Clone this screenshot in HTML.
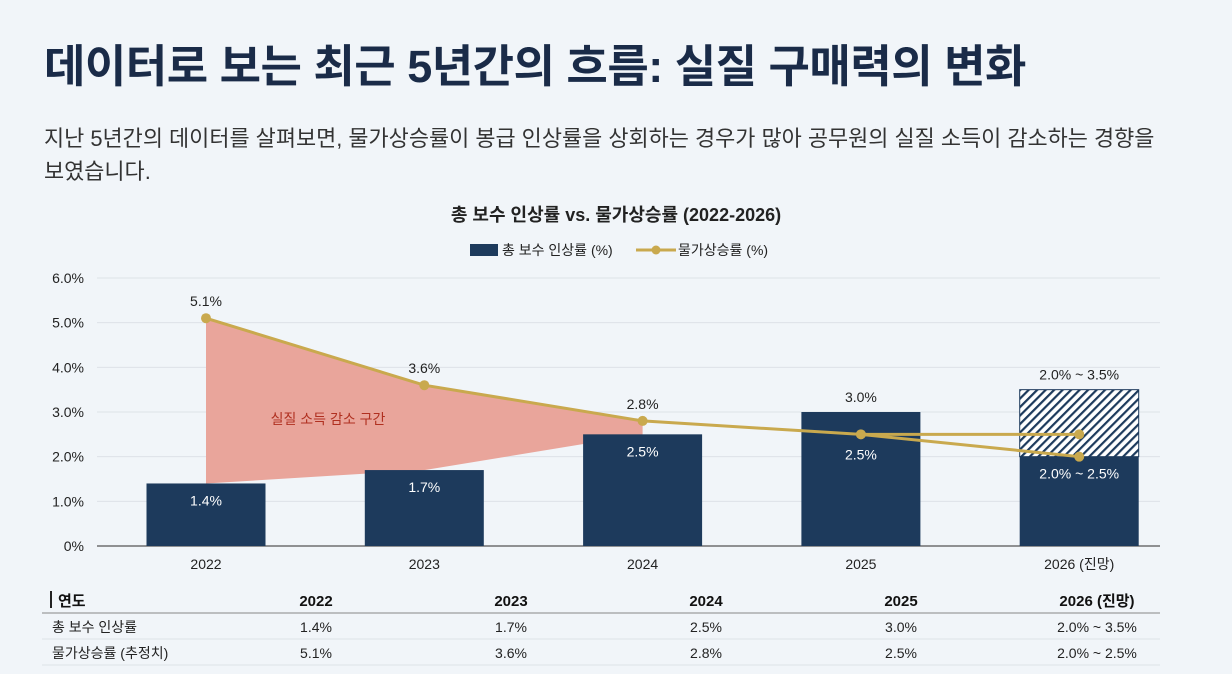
<!DOCTYPE html>
<html><head><meta charset="utf-8">
<style>
body{margin:0;width:1232px;height:674px;background:#f1f5f9;font-family:"Liberation Sans","Noto Sans CJK KR",sans-serif;overflow:hidden;position:relative}
h1{position:absolute;left:44px;top:30px;margin:0;font-size:45px;font-weight:bold;color:#1a2b48;letter-spacing:-0.5px;white-space:nowrap}
p.sub{position:absolute;left:44px;top:122px;margin:0;width:1125px;font-size:21.9px;line-height:33px;color:#333}
svg{position:absolute;left:0;top:0}
</style></head><body>
<h1>데이터로 보는 최근 5년간의 흐름: 실질 구매력의 변화</h1>
<p class="sub">지난 5년간의 데이터를 살펴보면, 물가상승률이 봉급 인상률을 상회하는 경우가 많아 공무원의 실질 소득이 감소하는 경향을<br>보였습니다.</p>
<svg id="chart" width="1232" height="674" font-family="Liberation Sans, Noto Sans CJK KR, sans-serif">
<defs><pattern id="hatch" width="6" height="6" patternUnits="userSpaceOnUse" patternTransform="rotate(45)"><rect width="6" height="6" fill="#fff"/><rect width="2.2" height="6" fill="#1d3a5c"/></pattern></defs>
</svg>
<script>
const categories=["2022","2023","2024","2025","2026 (진망)"];
const wage=[1.4,1.7,2.5,3.0,2.0];
const wageHigh=[null,null,null,null,3.5];
const inflation=[5.1,3.6,2.8,2.5,2.0];
const inflationAlt=[null,null,null,null,2.5];
const wageLabels=["1.4%","1.7%","2.5%","",""];
const wageTop=["","","","3.0%","2.0% ~ 3.5%"];
const infLabels=["5.1%","3.6%","2.8%","2.5%",""];
const yTicks=[0,1,2,3,4,5,6];
const tableRows=[["총 보수 인상률","1.4%","1.7%","2.5%","3.0%","2.0% ~ 3.5%"],["물가상승률 (추정치)","5.1%","3.6%","2.8%","2.5%","2.0% ~ 2.5%"]];

const svg=document.getElementById('chart');const NS="http://www.w3.org/2000/svg";
function el(t,a,txt){const e=document.createElementNS(NS,t);for(const k in a)e.setAttribute(k,a[k]);if(txt!=null)e.textContent=txt;svg.appendChild(e);return e;}
const x0=97,x1=1160,y0=546,yTop=278;
const y=v=>y0-(v/6)*(y0-yTop);
const step=218.3;
const cx=i=>206+step*i;
const bw=119;
let t=el('text',{x:616,y:221,'text-anchor':'middle','font-size':18,'font-weight':'bold',fill:'#222'},'총 보수 인상률 vs. 물가상승률 (2022-2026)');

let r=el('rect',{x:470,y:244,width:28,height:12,fill:'#1d3a5c'});

t=el('text',{x:502,y:255,'font-size':14,fill:'#222'},'총 보수 인상률 (%)');

el('line',{x1:636,y1:250,x2:676,y2:250,stroke:'#c9a94e','stroke-width':3});
el('circle',{cx:656,cy:250,r:4.5,fill:'#c9a94e'});
t=el('text',{x:678,y:255,'font-size':14,fill:'#222'},'물가상승률 (%)');

yTicks.forEach(v=>{
 const g=el('line',{x1:x0,y1:y(v),x2:x1,y2:y(v),stroke:v===0?'#555':'#dde2e8','stroke-width':v===0?1.2:1});
 
 const tl=el('text',{x:84,y:y(v)+5,'text-anchor':'end','font-size':14,fill:'#222'},v===0?'0%':v.toFixed(1)+'%');
 
});
const pts=[0,1,2].map(i=>cx(i)+','+y(inflation[i])).concat([2,1,0].map(i=>cx(i)+','+y(wage[i]))).join(' ');
let poly=el('polygon',{points:pts,fill:'#e9a59b'});

t=el('text',{x:328,y:424,'text-anchor':'middle','font-size':14,fill:'#b03020'},'실질 소득 감소 구간');

categories.forEach((c,i)=>{
 if(wageHigh[i]!=null){
  const h=el('rect',{x:cx(i)-bw/2,y:y(wageHigh[i]),width:bw,height:y(wage[i])-y(wageHigh[i]),fill:'url(#hatch)',stroke:'#1d3a5c','stroke-width':1});
  
 }
 const b=el('rect',{x:cx(i)-bw/2,y:y(wage[i]),width:bw,height:y0-y(wage[i]),fill:'#1d3a5c'});
 
 const xl=el('text',{x:cx(i),y:569,'text-anchor':'middle','font-size':14,fill:'#222'},c);
 
 if(wageLabels[i]){const l=el('text',{x:cx(i),y:y(wage[i])+22,'text-anchor':'middle','font-size':14,fill:'#fff'},wageLabels[i]);}
 if(wageTop[i]){const top=wageHigh[i]!=null?wageHigh[i]:wage[i];const l=el('text',{x:cx(i),y:y(top)-10,'text-anchor':'middle','font-size':14,fill:'#222'},wageTop[i]);}
});
const last=categories.length-1;
let l2=el('text',{x:cx(last),y:y(wage[last])+22,'text-anchor':'middle','font-size':14,fill:'#fff'},'2.0% ~ 2.5%');

const main=inflation.map((v,i)=>cx(i)+','+y(v)).join(' ');
let pl=el('polyline',{points:main,fill:'none',stroke:'#c9a94e','stroke-width':3});

let alt=el('line',{x1:cx(last-1),y1:y(inflation[last-1]),x2:cx(last),y2:y(inflationAlt[last]),stroke:'#c9a94e','stroke-width':3});

inflation.forEach((v,i)=>{
 const p=el('circle',{cx:cx(i),cy:y(v),r:5,fill:'#c9a94e'});
 
 if(infLabels[i]){const yy=i===3?y(v)+25:y(v)-12;const l=el('text',{x:cx(i),y:yy,'text-anchor':'middle','font-size':14,fill:i===3?'#fff':'#222'},infLabels[i]);}
});
let pa=el('circle',{cx:cx(last),cy:y(inflationAlt[last]),r:5,fill:'#c9a94e'});

const colX=[58,316,511,706,901,1097];
el('rect',{x:50,y:591,width:2,height:17,fill:'#222'});
const hdr=["연도"].concat(categories);
hdr.forEach((h,j)=>{const tt=el('text',{x:colX[j],y:606,'text-anchor':j?'middle':'start','font-size':15,'font-weight':'bold',fill:'#111'},h);});
el('line',{x1:42,y1:613,x2:1160,y2:613,stroke:'#888','stroke-width':1});
tableRows.forEach((row,ri)=>{
 const yy=632+ri*26;
 row.forEach((c,j)=>{const tt=el('text',{x:j?colX[j]:52,y:yy,'text-anchor':j?'middle':'start','font-size':14,fill:'#222'},c);});
 el('line',{x1:42,y1:yy+7,x2:1160,y2:yy+7,stroke:'#dde2e8','stroke-width':1});
});
</script>
</body></html>
